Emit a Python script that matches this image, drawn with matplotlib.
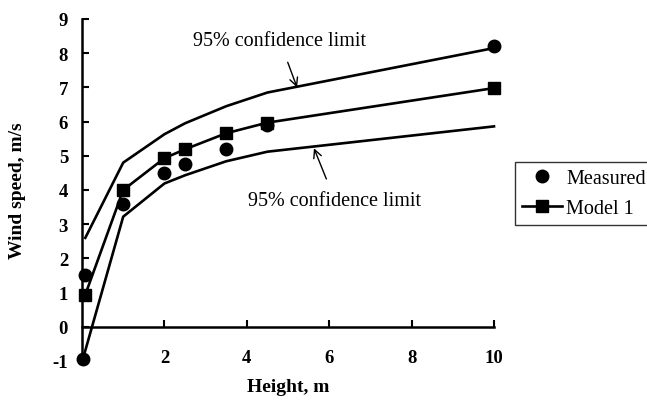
import matplotlib
matplotlib.use("Agg")
import matplotlib.pyplot as plt

# Data
meas_x = [0.02, 0.08, 1, 2, 2.5, 3.5, 4.5, 10]
meas_y = [-0.95, 1.52, 3.58, 4.49, 4.75, 5.19, 5.9, 8.2]

model_x = [0.08, 1, 2, 2.5, 3.5, 4.5, 10]
model_y = [0.94, 4.0, 4.93, 5.19, 5.66, 5.97, 6.98]

upper_x = [0.08, 1, 2, 2.5, 3.5, 4.5, 10]
upper_y = [2.6, 4.8, 5.63, 5.95, 6.45, 6.85, 8.15]

lower_x = [0.02, 1, 2, 2.5, 3.5, 4.5, 10]
lower_y = [-0.95, 3.22, 4.19, 4.43, 4.84, 5.12, 5.86]

xticks = [2, 4, 6, 8, 10]
yticks = [-1, 0, 1, 2, 3, 4, 5, 6, 7, 8, 9]

plt.rcParams['font.family'] = ['Liberation Serif', 'DejaVu Serif']
plt.rcParams['axes.unicode_minus'] = False

fig = plt.figure(figsize=(6.47, 4.02), dpi=100)
ax = fig.add_axes([82/647, 40/402, 412/647, 342/402])

lw = 1.9
ax.plot(upper_x, upper_y, color='black', lw=lw, clip_on=False)
ax.plot(lower_x, lower_y, color='black', lw=lw, clip_on=False)
ax.plot(model_x, model_y, color='black', lw=lw, marker='s', ms=8.5,
        label='Model 1', clip_on=False, zorder=3)
ax.plot(meas_x, meas_y, color='black', lw=0, marker='o', ms=9,
        label='Measured', clip_on=False, zorder=4)

ax.set_xlim(0, 10)
ax.set_ylim(-1, 9)

ax.spines['top'].set_visible(False)
ax.spines['right'].set_visible(False)
ax.spines['bottom'].set_position(('data', 0))
ax.spines['left'].set_linewidth(1.8)
ax.spines['bottom'].set_linewidth(1.8)

ax.set_xticks(xticks)
ax.set_yticks(yticks)
ax.tick_params(axis='x', direction='in', length=5, width=1.5, pad=16,
               labelsize=13.5)
ax.tick_params(axis='y', direction='in', length=5, width=1.5, pad=10,
               labelsize=13.5)
for lab in ax.get_xticklabels() + ax.get_yticklabels():
    lab.set_fontweight('bold')

ax.set_xlabel('Height, m', fontsize=14, fontweight='bold')
ax.xaxis.set_label_coords(0.5, -0.05)
ax.set_ylabel('Wind speed, m/s', fontsize=14, fontweight='bold')
ax.yaxis.set_label_coords(-0.135, 0.5)

ax.annotate('95% confidence limit', xy=(5.22, 7.0), xytext=(4.8, 8.36),
            ha='center', va='center', fontsize=14.5,
            arrowprops=dict(arrowstyle='->', color='black', lw=1.0,
                            shrinkA=7, shrinkB=0))
ax.annotate('95% confidence limit', xy=(5.63, 5.22), xytext=(6.14, 3.7),
            ha='center', va='center', fontsize=14.5,
            arrowprops=dict(arrowstyle='->', color='black', lw=1.0,
                            shrinkA=7, shrinkB=0))

handles, labels = ax.get_legend_handles_labels()
leg = fig.legend(handles[::-1], labels[::-1], loc='upper left',
                 bbox_to_anchor=(515/647, 1 - 163/402), fontsize=14.5,
                 frameon=True, fancybox=False, edgecolor='black',
                 handlelength=2.0, borderpad=0.35, labelspacing=0.55,
                 handletextpad=0.2, borderaxespad=0)
leg.get_frame().set_linewidth(1.0)

fig.savefig('out.png', dpi=100)
